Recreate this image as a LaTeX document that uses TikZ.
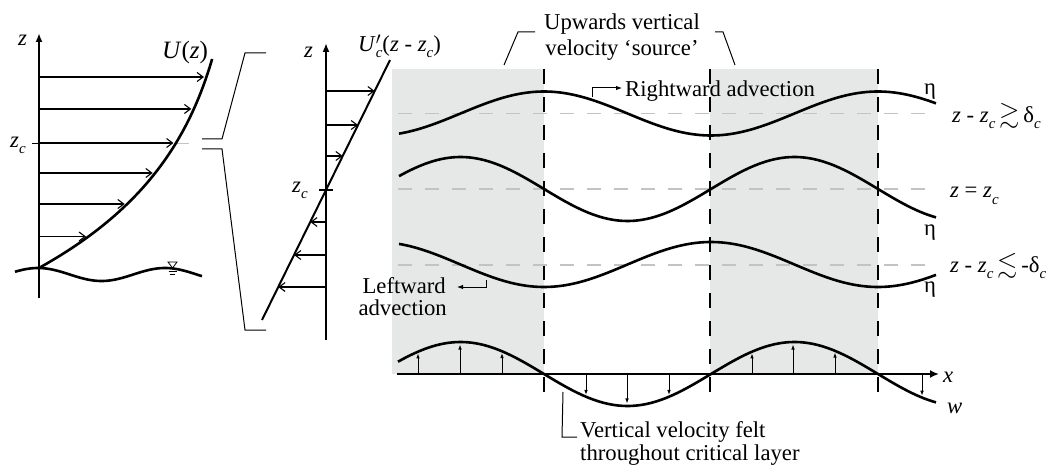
\documentclass[tikz,border=0pt]{standalone}
\usepackage{fontspec}
\setmainfont{Liberation Serif}
\usepackage{amssymb}
\usetikzlibrary{arrows.meta}
\newcommand\myfs{\fontsize{22.7}{27.5}\selectfont}
\newcommand\sbc{\raisebox{-6pt}{\fontsize{15}{15}\selectfont\itshape c}}
\newcommand\zi{\textit{z}}
\definecolor{bandgray}{RGB}{230,231,231}
\definecolor{lgray}{RGB}{195,195,195}
\begin{document}
\begin{tikzpicture}[x=1pt,y=-1pt,font=\myfs,
  lbl/.style={inner sep=0pt,anchor=base},
  lblw/.style={inner sep=0pt,anchor=base west},
  lble/.style={inner sep=0pt,anchor=base east},
  curve/.style={line width=2.6pt},
  axisline/.style={line width=2.4pt,-{Latex[length=9pt,width=7pt]}},
  harrow/.style={line width=1.1pt,-{Straight Barb[length=6pt,width=9pt,line width=1.1pt]}},
  varrow/.style={line width=0.9pt,-{Latex[length=5pt,width=3.6pt]}},
  smallarrow/.style={line width=1pt,-{Latex[length=6pt,width=4.5pt]}},
  leader/.style={line width=1pt},
  vdash/.style={line width=1.6pt,dash pattern=on 15pt off 13pt},
  gdash/.style={lgray,line width=1.3pt,dash pattern=on 14pt off 13pt}]
\useasboundingbox (0,0) rectangle (1057,465);

% ---------------- left panel ----------------
\draw[gdash] (40,143.5) -- (200,143.5);
\draw[line width=0.9pt] (32,143) -- (39,143);
\draw[axisline] (39,298) -- (39,33);
\draw[curve] plot[domain=0:209,samples=80] ({39+206.7*(1-exp(-\x/115))},{268-\x});
\foreach \yy in {77,109,143,173,204,236.5}
  \draw[harrow] (39,\yy) -- ({39+206.7*(1-exp(-(268-\yy)/115))-2.5},\yy);
\draw[curve] plot[domain=15:202,samples=80] (\x,{274.5-6.5*cos(2.8346*(\x-38))});
\draw[line width=0.8pt] (168,262) -- (177,262) -- (172.5,268) -- cycle;
\draw[line width=1.2pt] (168.5,271.5) -- (176.5,271.5);
\draw[line width=1pt] (170,274.5) -- (175,274.5);
\node[lblw] (zL) at (18,46) {\zi};
\node[lblw] (zcL) at (10,148) {\zi\sbc};
\node[lblw,font=\fontsize{25}{28}\selectfont] (UL) at (162,59) {\textit{U}(\zi)};

% bracket
\draw[leader] (202,139) -- (222,139) -- (245,53) -- (266,53);
\draw[leader] (202,149) -- (222,149) -- (245,330) -- (266,330);

% ---------------- middle panel ----------------
\draw[axisline] (326,340) -- (326,43);
\draw[line width=2pt] (262,320) -- (390,60);
\draw[line width=2.6pt] (319,190) -- (333,190);
\foreach \yy in {91,125,156,222,255,287}
  \draw[harrow] (326,\yy) -- ({326+(190-\yy)*0.4923},\yy);
\node[lblw] (zM) at (304,58) {\zi};
\node[lblw] (zcM) at (292,193) {\zi\sbc};
\node[lblw] (UM) at (358,52) {\textit{U}\rlap{$'$}\sbc(\zi{} - \zi\sbc)};

% ---------------- right panel ----------------
\fill[bandgray] (392,69) rectangle (544,374);
\fill[bandgray] (710,69) rectangle (878,374);
\foreach \xx in {544,710,878}
  \draw[vdash] (\xx,69) -- (\xx,403);
\foreach \yy in {113.5,189,265}
  \draw[gdash] (398,\yy) -- (937,\yy);

\draw[curve] plot[domain=399:936,samples=140] (\x,{113.5-22*cos(1.077844*(\x-544))});
\draw[curve] plot[domain=399:936,samples=140] (\x,{189+32*sin(1.077844*(\x-544))});
\draw[curve] plot[domain=399:936,samples=140] (\x,{264.5+22.5*cos(1.077844*(\x-544))});
\draw[curve] plot[domain=398:936,samples=140] (\x,{374+32*sin(1.077844*(\x-544))});

\draw[line width=2.6pt,-{Latex[length=9pt,width=8pt]}] (397,374) -- (939,374);
\foreach \xx in {418,460,502,586,627,669,752,793,835,922}
  \draw[varrow] (\xx,374) -- (\xx,{374+29.5*sin(1.077844*(\xx-544))});

\node[lbl] (eta1) at (930,95) {η};
\node[lbl] (eta2) at (930,235) {η};
\node[lbl] (eta3) at (930,292) {η};
\node[lblw] (l1) at (952,123) {\zi{} - \zi\sbc\,\scalebox{1.15}{$\gtrsim$}\,δ\sbc};
\node[lblw] (l2) at (950,198) {\zi{} = \zi\sbc};
\node[lblw] (l3) at (950,272) {\zi{} - \zi\sbc\,\scalebox{1.15}{$\lesssim$}\,-δ\sbc};
\node[lblw] (xl) at (943,382) {\textit{x}};
\node[lblw] (wl) at (947,413) {\textit{w}};

% annotations
\node[lbl] (up1) at (622,30) {Upwards vertical};
\node[lbl] (up2) at (622,56) {velocity `source'};
\draw[leader] (504,65) -- (518,32) -- (535,32);
\draw[leader] (715,32) -- (723,32) -- (735,65);

\node[lblw] (ra) at (625,97) {Rightward advection};
\draw[smallarrow] (592,97) -- (592,88) -- (622,88);

\node[lble] (la1) at (446,293) {Leftward};
\node[lble] (la2) at (447,315) {advection};
\draw[smallarrow] (486,280) -- (486,287) -- (457,287);

\node[lblw] (vv1) at (580,437) {Vertical velocity felt};
\node[lblw] (vv2) at (580,460) {throughout critical layer};
\draw[leader] (563,392) -- (562,437) -- (577,437);
\end{tikzpicture}
\end{document}
